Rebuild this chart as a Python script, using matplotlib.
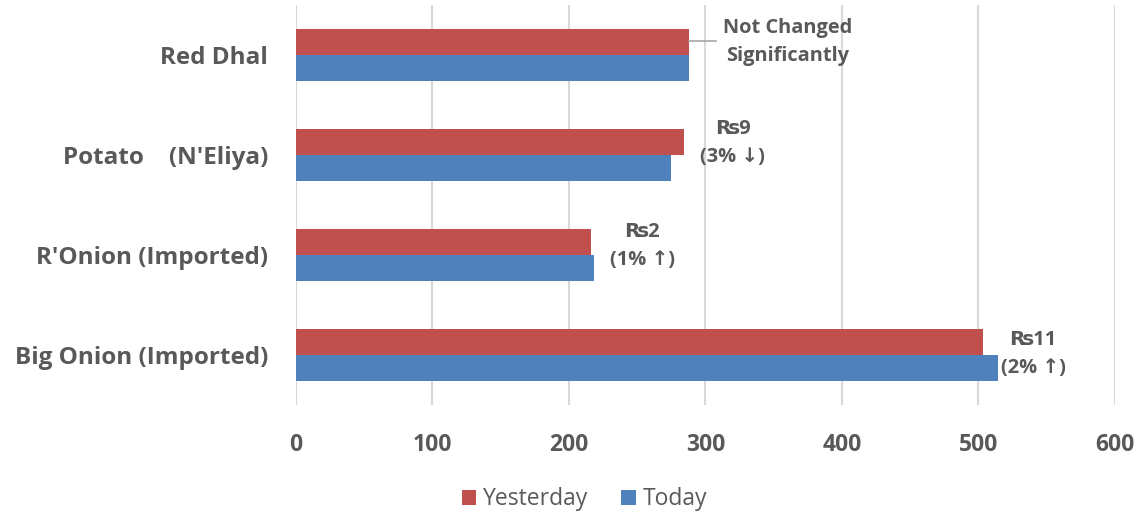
import matplotlib
matplotlib.use("Agg")
import matplotlib.pyplot as plt
import numpy as np

categories = ["Big Onion (Imported)", "R'Onion (Imported)", "Potato    (N'Eliya)", "Red Dhal"]
yesterday = [503, 216, 284, 288]
today = [514, 218, 275, 288]
change_labels = ["\u20a811\n(2% \u2191)", "\u20a82\n(1% \u2191)", "\u20a89\n(3% \u2193)", "Not Changed\nSignificantly"]
xticks = [0, 100, 200, 300, 400, 500, 600]

RED = "#C0504D"
BLUE = "#4F81BD"
GREY = "#595959"
FAM = ["Open Sans", "DejaVu Sans"]

fig = plt.figure(figsize=(11.41, 5.14), dpi=100)
ax = fig.add_axes([0.2594, 0.212, 0.9772 - 0.2594, 0.990 - 0.212])

y = np.arange(len(categories))
h = 0.26
ax.barh(y + h / 2, yesterday, height=h, color=RED, label="Yesterday", zorder=3)
ax.barh(y - h / 2, today, height=h, color=BLUE, label="Today", zorder=3)

ax.set_xlim(0, 600)
ax.set_ylim(-0.5, 3.5)
ax.set_xticks(xticks)
ax.set_xticklabels([str(t) for t in xticks], fontsize=16.5, fontweight="bold", color=GREY, family=FAM)
ax.set_yticks(y)
ax.set_yticklabels(categories, fontsize=17.5, fontweight="bold", color=GREY, family=FAM)
ax.tick_params(axis="both", length=0)
ax.tick_params(axis="y", pad=20)
ax.tick_params(axis="x", pad=20)
ax.grid(axis="x", color="#D9D9D9", linewidth=1.5, zorder=0)
for s in ax.spines.values():
    s.set_visible(False)

# annotations
ann_pos = [(540, 0.01), (253.5, 1.09), (320, 2.12), (360, 3.13)]
for (ax_x, ax_y), txt in zip(ann_pos, change_labels):
    ax.text(ax_x, ax_y, txt, ha="center", va="center", fontsize=14.4, fontweight="bold",
            color=GREY, family=FAM, linespacing=1.5)
ax.plot([yesterday[3], 307.5], [3.14, 3.14], color="#A6A6A6", linewidth=1.2, zorder=4)

leg = fig.legend(loc="lower center", bbox_to_anchor=(0.512, -0.035), ncol=2, frameon=False,
                 prop={"family": FAM, "size": 16.5}, handlelength=0.65, handleheight=0.65,
                 handletextpad=0.3, columnspacing=1.4)
for t in leg.get_texts():
    t.set_color(GREY)

fig.savefig("out.png", dpi=100)
